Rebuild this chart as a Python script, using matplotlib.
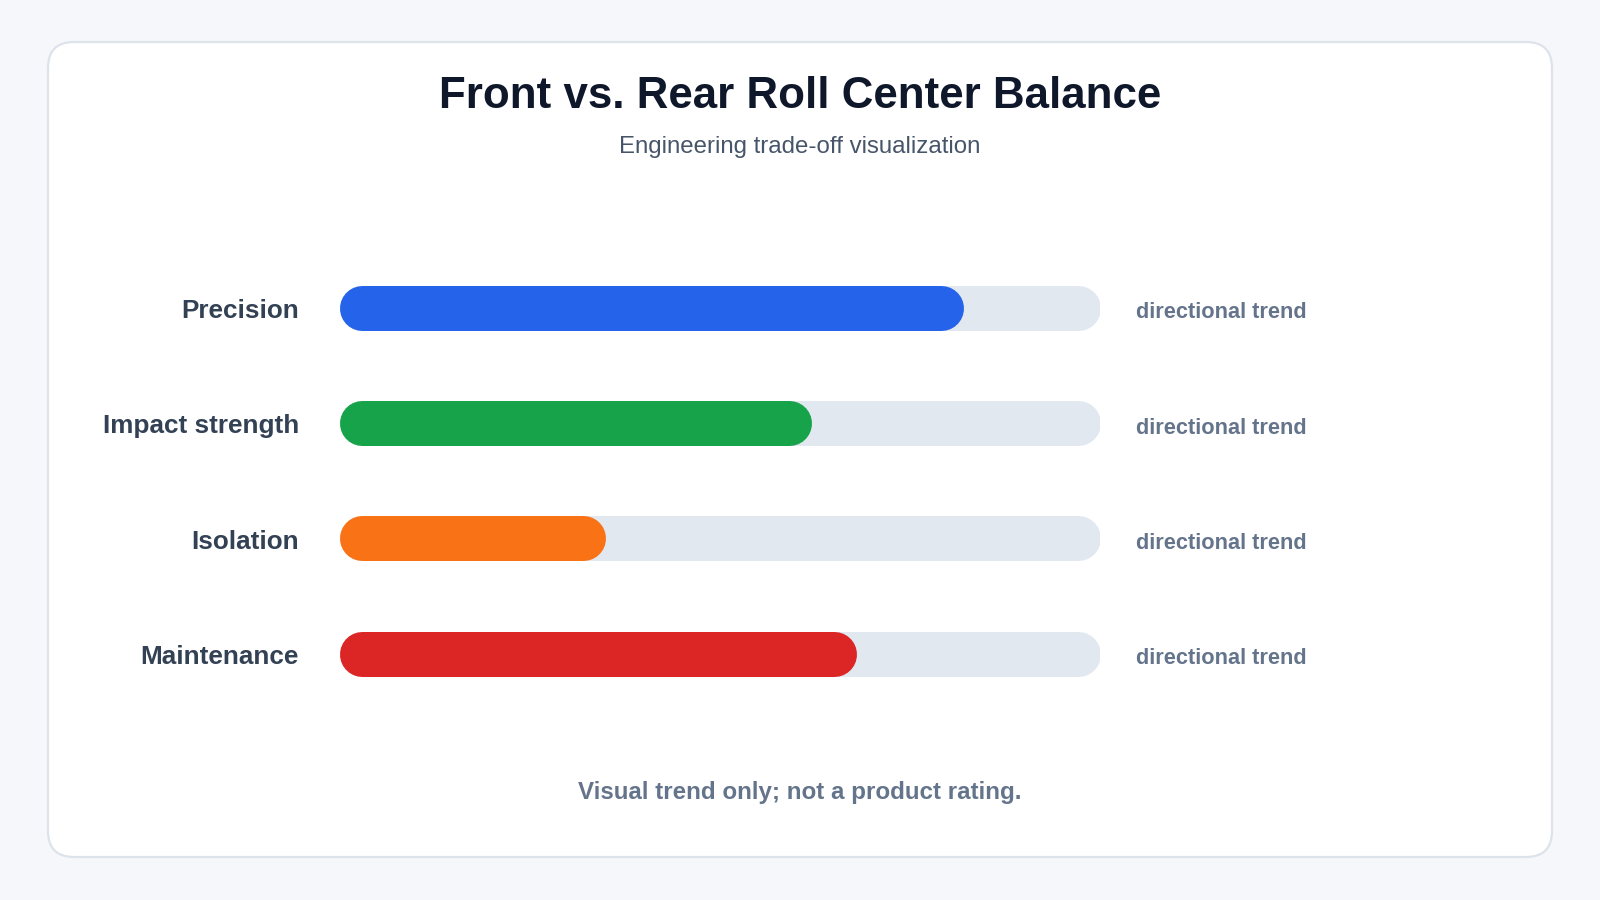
import matplotlib
matplotlib.use("Agg")
import matplotlib.pyplot as plt
import matplotlib.transforms as mtransforms
from matplotlib.patches import FancyBboxPatch

plt.rcParams['font.family'] = ['Liberation Sans', 'DejaVu Sans']

# data
categories = ["Precision", "Impact strength", "Isolation", "Maintenance"]
values = [82, 62, 35, 68]
bar_colors = ["#2563EB", "#16A34A", "#F97316", "#DC2626"]
side_note = "directional trend"
title = "Front vs. Rear Roll Center Balance"
subtitle = "Engineering trade-off visualization"
footer = "Visual trend only; not a product rating."

fig = plt.figure(figsize=(16, 9), dpi=100)
fig.patch.set_facecolor("#F5F7FA")

# background card, in pixel units
bg = fig.add_axes([0, 0, 1, 1])
bg.set_xlim(0, 1600)
bg.set_ylim(900, 0)
bg.axis("off")
card = FancyBboxPatch((48, 42), 1504, 815, boxstyle="round,pad=0,rounding_size=26",
                      facecolor="white", edgecolor="#DDE3EA", linewidth=1.6)
bg.add_patch(card)

bg.text(800, 96, title, ha="center", va="center", fontsize=31.6,
        fontweight="bold", color="#0F172A")
bg.text(800, 147, subtitle, ha="center", va="center", fontsize=17.3,
        color="#475569")
bg.text(800, 793, footer, ha="center", va="center", fontsize=17.4,
        fontweight="bold", color="#64748B")

# bar axes
ax = fig.add_axes([0.2124, 0.2095, 0.4751, 0.5125])
ax.set_xlim(0, 100)
ax.set_ylim(len(categories) - 0.5, -0.5)
ax.axis("off")

fig.canvas.draw()
px_per_unit = ax.transData.transform((1, 0))[0] - ax.transData.transform((0, 0))[0]
bar_px = 45
r = (bar_px / 2) / px_per_unit
lw_pt = bar_px * 72 / fig.dpi

ytrans = ax.get_yaxis_transform()
label_trans = mtransforms.offset_copy(ytrans, fig=fig, x=0, y=-2.2, units="points")
note_trans = mtransforms.offset_copy(ytrans, fig=fig, x=0, y=-3.5, units="points")

for i, (cat, v, c) in enumerate(zip(categories, values, bar_colors)):
    ax.plot([r, 100 - r], [i, i], color="#E2E8F0", lw=lw_pt,
            solid_capstyle="round", zorder=1)
    ax.plot([r, v - r], [i, i], color=c, lw=lw_pt,
            solid_capstyle="round", zorder=2)
    ax.text(-0.054, i, cat, transform=label_trans, ha="right",
            va="center", fontsize=18.8, fontweight="bold", color="#334155")
    ax.text(1.047, i, side_note, transform=note_trans, ha="left",
            va="center", fontsize=15.7, fontweight="bold", color="#64748B")

fig.savefig("out.png", dpi=100, facecolor=fig.get_facecolor())
